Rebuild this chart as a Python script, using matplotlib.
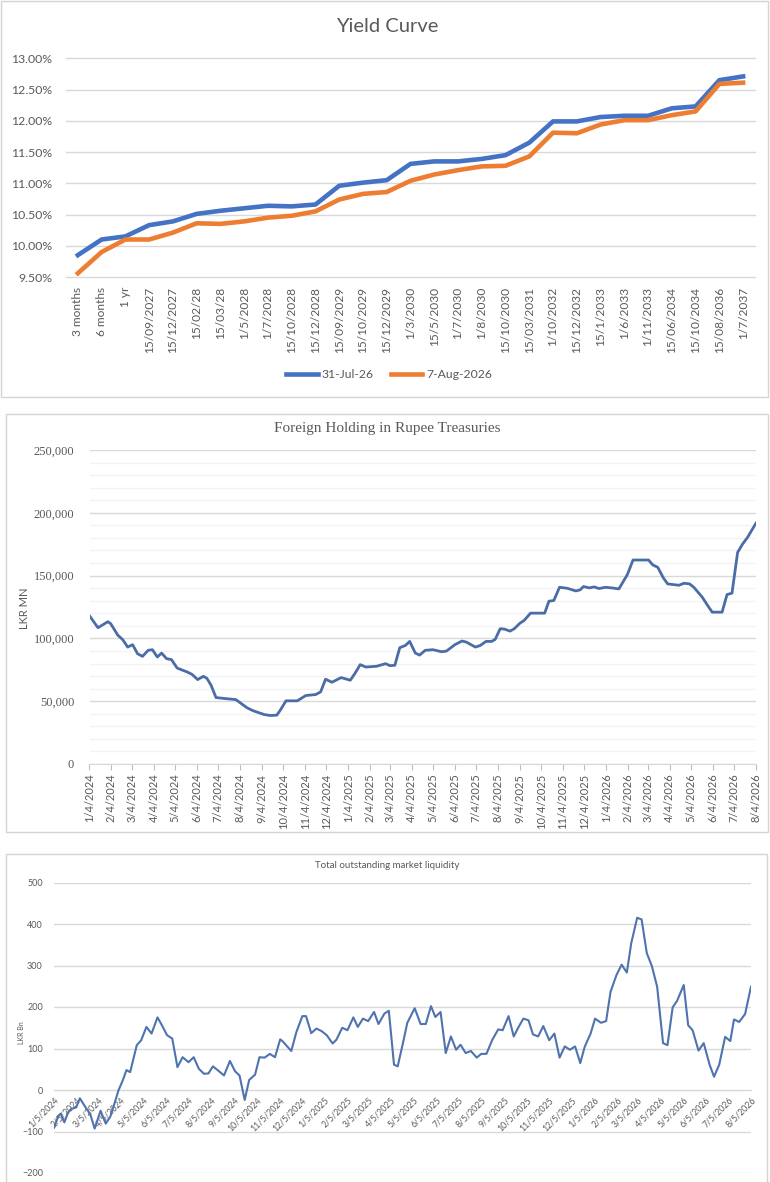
import matplotlib
matplotlib.use("Agg")
import matplotlib.pyplot as plt
from matplotlib.ticker import MultipleLocator, FuncFormatter
from matplotlib.patches import Rectangle
import pandas as pd
import numpy as np

# ---------------- DATA ----------------
# Chart 1: Yield curve
yc_labels = ["3 months", "6 months", "1 yr", "15/09/2027", "15/12/2027", "15/02/28",
             "15/03/28", "1/5/2028", "1/7/2028", "15/10/2028", "15/12/2028", "15/09/2029",
             "15/10/2029", "15/12/2029", "1/3/2030", "15/5/2030", "1/7/2030", "1/8/2030",
             "15/10/2030", "15/03/2031", "1/10/2032", "15/12/2032", "15/1/2033", "1/6/2033",
             "1/11/2033", "15/06/2034", "15/10/2034", "15/08/2036", "1/7/2037"]
yc_jul31 = [9.85, 10.10, 10.15, 10.33, 10.39, 10.51, 10.56, 10.60, 10.64, 10.63, 10.66, 10.96,
            11.01, 11.05, 11.31, 11.35, 11.35, 11.39, 11.45, 11.65, 11.99, 11.99, 12.06, 12.08,
            12.08, 12.20, 12.23, 12.65, 12.71]
yc_aug7 = [9.56, 9.90, 10.10, 10.10, 10.21, 10.36, 10.35, 10.39, 10.45, 10.48, 10.55, 10.74,
           10.83, 10.86, 11.04, 11.14, 11.21, 11.27, 11.28, 11.43, 11.81, 11.80, 11.94, 12.01,
           12.01, 12.09, 12.15, 12.59, 12.61]
yc_series_names = ["31-Jul-26", "7-Aug-2026"]

# Chart 2: Foreign holding in rupee treasuries (LKR MN)
fh_dates = ["2024-01-04", "2024-01-16", "2024-01-30", "2024-02-03", "2024-02-13", "2024-02-20",
            "2024-02-27", "2024-03-05", "2024-03-12", "2024-03-19", "2024-03-27", "2024-04-02",
            "2024-04-09", "2024-04-15", "2024-04-22", "2024-04-29", "2024-05-07", "2024-05-21",
            "2024-05-28", "2024-06-05", "2024-06-13", "2024-06-18", "2024-06-24", "2024-07-01",
            "2024-07-14", "2024-07-29", "2024-08-07", "2024-08-14", "2024-08-23", "2024-09-07",
            "2024-09-16", "2024-09-25", "2024-09-30", "2024-10-08", "2024-10-24", "2024-11-05",
            "2024-11-19", "2024-11-26", "2024-12-03", "2024-12-12", "2024-12-25", "2025-01-07",
            "2025-01-14", "2025-01-21", "2025-01-29", "2025-02-13", "2025-02-26", "2025-03-04",
            "2025-03-11", "2025-03-18", "2025-03-26", "2025-04-01", "2025-04-09", "2025-04-15",
            "2025-04-23", "2025-05-04", "2025-05-16", "2025-05-23", "2025-06-04", "2025-06-14",
            "2025-06-20", "2025-07-03", "2025-07-10", "2025-07-18", "2025-07-26", "2025-07-31",
            "2025-08-07", "2025-08-13", "2025-08-21", "2025-08-27", "2025-09-04", "2025-09-10",
            "2025-09-19", "2025-10-09", "2025-10-15", "2025-10-22", "2025-10-30", "2025-11-10",
            "2025-11-22", "2025-11-28", "2025-12-03", "2025-12-11", "2025-12-18", "2025-12-25",
            "2026-01-03", "2026-01-12", "2026-01-22", "2026-02-03", "2026-02-11", "2026-03-05",
            "2026-03-11", "2026-03-18", "2026-03-26", "2026-04-01", "2026-04-17", "2026-04-24",
            "2026-05-02", "2026-05-08", "2026-05-20", "2026-05-27", "2026-06-03", "2026-06-17",
            "2026-06-24", "2026-07-01", "2026-07-09", "2026-07-16", "2026-07-23", "2026-08-04"]
fh_values = [118000, 108500, 113300, 111700, 102600, 99000, 93100, 95000, 87800, 85700, 90500,
             91000, 85200, 88300, 83900, 83100, 76400, 73300, 71400, 67200, 69800, 68300, 62700,
             52900, 52100, 51300, 47600, 44700, 42300, 39400, 38600, 38900, 42900, 50300, 50300,
             54500, 55300, 57400, 67500, 65100, 68800, 66700, 72500, 79100, 77200, 77800, 79900,
             78300, 78600, 92600, 94400, 97600, 88300, 86700, 90500, 91000, 89400, 89900, 95000,
             97900, 97100, 93100, 94400, 97600, 97600, 99200, 107700, 107400, 105800, 107700,
             112100, 114300, 120100, 120100, 129600, 130200, 140700, 139900, 137800, 138600,
             141300, 140200, 141000, 139700, 140700, 140200, 139400, 150800, 162400, 162400,
             158500, 156600, 148100, 143400, 142300, 143900, 143400, 140700, 132800, 126700,
             120900, 120900, 134900, 136000, 168500, 175100, 180400, 191800]
fh_start, fh_end = "2024-01-04", "2026-08-04"

# Chart 3: Total outstanding market liquidity (LKR Bn)
ml_dates = ["2024-01-05", "2024-01-11", "2024-01-14", "2024-01-19", "2024-01-24", "2024-01-28",
            "2024-02-04", "2024-02-09", "2024-02-16", "2024-02-23", "2024-02-29", "2024-03-08",
            "2024-03-15", "2024-03-21", "2024-03-28", "2024-04-01", "2024-04-07", "2024-04-12",
            "2024-04-17", "2024-04-26", "2024-05-02", "2024-05-09", "2024-05-16", "2024-05-24",
            "2024-05-30", "2024-06-06", "2024-06-13", "2024-06-20", "2024-06-27", "2024-07-05",
            "2024-07-12", "2024-07-19", "2024-07-26", "2024-08-01", "2024-08-07", "2024-08-14",
            "2024-08-22", "2024-08-30", "2024-09-06", "2024-09-12", "2024-09-19", "2024-09-25",
            "2024-10-03", "2024-10-09", "2024-10-16", "2024-10-23", "2024-10-30", "2024-11-06",
            "2024-11-09", "2024-11-14", "2024-11-21", "2024-11-28", "2024-12-06", "2024-12-11",
            "2024-12-18", "2024-12-25", "2025-01-01", "2025-01-08", "2025-01-16", "2025-01-21",
            "2025-01-29", "2025-02-05", "2025-02-13", "2025-02-19", "2025-02-26", "2025-03-05",
            "2025-03-13", "2025-03-19", "2025-03-27", "2025-04-02", "2025-04-09", "2025-04-14",
            "2025-04-21", "2025-04-27", "2025-05-07", "2025-05-15", "2025-05-22", "2025-05-29",
            "2025-06-04", "2025-06-11", "2025-06-18", "2025-06-25", "2025-07-02", "2025-07-08",
            "2025-07-15", "2025-07-22", "2025-07-30", "2025-08-05", "2025-08-12", "2025-08-20",
            "2025-08-28", "2025-09-03", "2025-09-11", "2025-09-18", "2025-09-24", "2025-10-01",
            "2025-10-08", "2025-10-14", "2025-10-21", "2025-10-28", "2025-11-05", "2025-11-12",
            "2025-11-19", "2025-11-26", "2025-12-03", "2025-12-10", "2025-12-17", "2025-12-23",
            "2025-12-31", "2026-01-06", "2026-01-14", "2026-01-21", "2026-01-27", "2026-02-04",
            "2026-02-11", "2026-02-18", "2026-02-24", "2026-03-04", "2026-03-10", "2026-03-17",
            "2026-03-24", "2026-03-31", "2026-04-08", "2026-04-14", "2026-04-21", "2026-04-27",
            "2026-05-06", "2026-05-12", "2026-05-18", "2026-05-26", "2026-06-02", "2026-06-10",
            "2026-06-16", "2026-06-23", "2026-07-01", "2026-07-08", "2026-07-13", "2026-07-20",
            "2026-07-28", "2026-08-05"]
ml_values = [-91, -62, -57, -78, -54, -46, -42, -20, -40, -58, -93, -50, -81, -65, -26, -2, 23,
             48, 43, 108, 120, 152, 136, 175, 156, 132, 124, 55, 79, 67, 79, 51, 39, 40, 57, 47,
             35, 70, 45, 35, -24, 24, 37, 79, 78, 87, 79, 122, 118, 108, 94, 140, 178, 178, 137,
             148, 142, 132, 112, 121, 150, 144, 175, 152, 172, 166, 188, 159, 184, 191, 61, 57,
             112, 162, 197, 159, 159, 202, 176, 188, 89, 129, 97, 109, 89, 94, 78, 87, 87, 121,
             146, 144, 178, 129, 150, 172, 168, 134, 129, 154, 120, 136, 78, 105, 97, 105, 65,
             104, 136, 172, 162, 166, 237, 277, 302, 283, 354, 415, 411, 330, 298, 249, 113, 108,
             199, 215, 253, 156, 144, 95, 113, 61, 32, 61, 128, 118, 170, 164, 183, 249]
ml_start, ml_end = "2024-01-05", "2026-08-05"

# ---------------- STYLE / LAYOUT ----------------
W, H = 770, 1182
fig = plt.figure(figsize=(W / 100, H / 100), dpi=100)
fig.patch.set_facecolor("white")

SANS = ["Lato", "DejaVu Sans"]
SERIF = ["Liberation Serif", "DejaVu Serif"]
TXT = "#595959"
GRID = "#D9D9D9"


def ax_rect(x0, y0, x1, y1):
    return [x0 / W, 1 - y1 / H, (x1 - x0) / W, (y1 - y0) / H]


def border(x0, y0, x1, y1):
    fig.add_artist(Rectangle((x0 / W, 1 - y1 / H), (x1 - x0) / W, (y1 - y0) / H,
                             transform=fig.transFigure, fill=False,
                             edgecolor="#D4D4D4", linewidth=1.0))


def clean(ax):
    for s in ax.spines.values():
        s.set_visible(False)
    ax.set_facecolor("none")


def month_label(d):
    return f"{d.month}/{d.day}/{d.year}"


def monthly_ticks(start, end):
    s = pd.Timestamp(start)
    return pd.date_range(s.replace(day=1), end, freq="MS") + pd.Timedelta(days=s.day - 1)


border(1, 1, 768, 397)
border(6, 414, 768, 832)
border(6, 854, 767, 1190)

# ---------------- CHART 1 ----------------
ax1 = fig.add_axes(ax_rect(66, 58.3, 755, 277))
clean(ax1)
xi = np.arange(len(yc_labels))
ax1.plot(xi, yc_jul31, color="#4472C4", lw=3.3, label=yc_series_names[0], zorder=3)
ax1.plot(xi, yc_aug7, color="#ED7D31", lw=3.3, label=yc_series_names[1], zorder=3)
ax1.set_xlim(-0.5, len(yc_labels) - 0.5)
ax1.set_ylim(9.5, 13.0)
ax1.yaxis.set_major_locator(MultipleLocator(0.5))
ax1.yaxis.set_major_formatter(FuncFormatter(lambda v, p: f"{v:.2f}%"))
ax1.set_xticks(xi)
ax1.set_xticklabels(yc_labels, rotation=90, family=SANS, fontsize=8.6, color=TXT)
for lab in ax1.get_yticklabels():
    lab.set_family(SANS)
ax1.tick_params(axis="y", length=0, pad=10, labelsize=8.8, labelcolor=TXT)
ax1.tick_params(axis="x", length=0, pad=7)
ax1.grid(axis="y", color=GRID, lw=1.0, zorder=0)
ax1.set_axisbelow(True)
for gl in ax1.get_ygridlines():
    gl.set_clip_on(False)
fig.text(387 / W, 1 - 27 / H, "Yield Curve", ha="center", va="center",
         fontsize=14.5, color=TXT, family=SANS)
leg = ax1.legend(loc="center", bbox_to_anchor=(389 / W, 1 - 375 / H),
                 bbox_transform=fig.transFigure, ncol=2, frameon=False,
                 prop={"family": SANS, "size": 8.8}, handlelength=2.6,
                 handletextpad=0.3, columnspacing=1.4)
for t in leg.get_texts():
    t.set_color(TXT)

# ---------------- CHART 2 ----------------
ax2 = fig.add_axes(ax_rect(89.5, 450, 756, 764))
clean(ax2)
ax2.spines["bottom"].set_visible(True)
ax2.spines["bottom"].set_color(GRID)
ax2.plot(pd.to_datetime(fh_dates), fh_values, color="#4A6DA7", lw=2.0, zorder=3)
ax2.set_xlim(pd.Timestamp(fh_start), pd.Timestamp(fh_end))
ax2.set_ylim(0, 250000)
ax2.yaxis.set_major_locator(MultipleLocator(50000))
ax2.yaxis.set_minor_locator(MultipleLocator(10000))
ax2.yaxis.set_major_formatter(FuncFormatter(lambda v, p: f"{v:,.0f}"))
fh_ticks = monthly_ticks(fh_start, fh_end)
ax2.set_xticks(fh_ticks)
ax2.set_xticklabels([month_label(d) for d in fh_ticks], rotation=90,
                    family=SANS, fontsize=8.0, color=TXT)
for lab in ax2.get_yticklabels():
    lab.set_family(SERIF)
ax2.tick_params(axis="y", which="both", length=0, pad=11, labelsize=9, labelcolor=TXT)
ax2.tick_params(axis="x", length=4, color="#BFBFBF", pad=3)
ax2.grid(axis="y", which="major", color=GRID, lw=1.0, zorder=0)
ax2.grid(axis="y", which="minor", color="#F3F3F3", lw=1.0, zorder=0)
ax2.set_axisbelow(True)
fig.text(387 / W, 1 - 429 / H, "Foreign Holding in Rupee Treasuries", ha="center",
         va="center", fontsize=11, color=TXT, family=SERIF)
fig.text(24 / W, 1 - 608 / H, "LKR MN", ha="center", va="center", rotation=90,
         fontsize=8, color=TXT, family=SANS)

# ---------------- CHART 3 ----------------
ax3 = fig.add_axes(ax_rect(54, 882.5, 751, 1173))
clean(ax3)
ax3.spines["bottom"].set_visible(True)
ax3.spines["bottom"].set_position(("data", 0))
ax3.spines["bottom"].set_color(GRID)
ax3.plot(pd.to_datetime(ml_dates), ml_values, color="#4E73AE", lw=1.5, zorder=3)
ax3.set_xlim(pd.Timestamp(ml_start), pd.Timestamp(ml_end))
ax3.set_ylim(-200, 500)
ax3.yaxis.set_major_locator(MultipleLocator(100))
ml_ticks = monthly_ticks(ml_start, ml_end)
ax3.set_xticks(ml_ticks)
ax3.set_xticklabels([month_label(d) for d in ml_ticks])
for lab in ax3.get_xticklabels():
    lab.set_rotation(45)
    lab.set_ha("right")
    lab.set_va("top")
    lab.set_rotation_mode("anchor")
    lab.set_family(SANS)
    lab.set_fontsize(6.3)
    lab.set_color(TXT)
for lab in ax3.get_yticklabels():
    lab.set_family(SANS)
ax3.tick_params(axis="y", length=0, pad=8, labelsize=6.5, labelcolor=TXT)
ax3.tick_params(axis="x", length=0, pad=4)
ax3.grid(axis="y", color=GRID, lw=1.0, zorder=0)
ax3.set_axisbelow(True)
fig.text(387 / W, 1 - 866 / H, "Total outstanding market liquidity", ha="center",
         va="center", fontsize=7, color=TXT, family=SANS)
fig.text(21 / W, 1 - 1033 / H, "LKR Bn", ha="center", va="center", rotation=90,
         fontsize=5, color=TXT, family=SANS)

fig.savefig("out.png", dpi=100, facecolor="white")
